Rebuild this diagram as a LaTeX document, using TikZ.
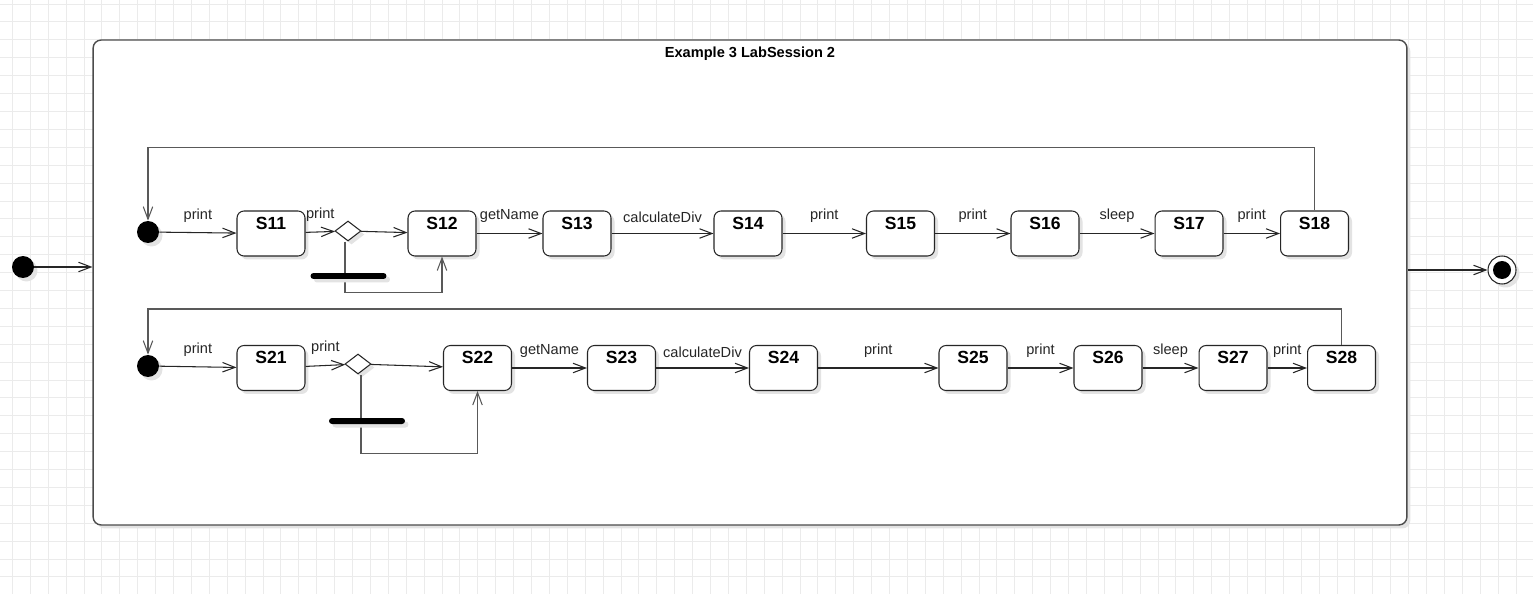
\documentclass[tikz,border=0pt]{standalone}
\usepackage{fontspec}
\setmainfont{Liberation Sans}
\usetikzlibrary{arrows.meta,shapes.geometric,shadows}

\tikzset{
    gridline/.style={draw=black!8, line width=0.45pt},
    shade box/.style={drop shadow={opacity=1, fill=black!11, shadow xshift=0.07cm, shadow yshift=-0.07cm}},
    state/.style={draw=black!85, fill=white, rounded corners=0.14cm, line width=0.6pt,
        minimum width=1.36cm, minimum height=0.9cm, inner sep=0.1cm,
        text height=0.26cm, text depth=0.44cm, font=\bfseries, shade box},
    start/.style={circle, fill=black, minimum size=0.44cm, inner sep=0, shade box},
    choice/.style={diamond, draw=black!85, fill=white, line width=0.6pt,
        minimum width=0.52cm, minimum height=0.4cm, inner sep=0, shade box},
    bar/.style={fill=black, rounded corners=0.06cm, minimum width=1.52cm,
        minimum height=0.12cm, inner sep=0, shade box},
    trans/.style={draw=black!85, line width=0.6pt, -{Straight Barb[length=2.5mm, width=1.9mm]}},
    back/.style={draw=black!65, line width=0.6pt, -{Straight Barb[length=2.5mm, width=1.9mm]}},
    lbl/.style={above=0.15cm, midway, text=black!85, inner sep=0.05cm}
}

\begin{document}
\begin{tikzpicture}[x=0.02cm, y=-0.02cm, font=\fontsize{8.3}{9.8}\selectfont]
        \useasboundingbox[fill=white] (0, 0) rectangle (1533, 594);

        % background grid
        \foreach \gx in {0, ..., 85} {
            \draw[gridline] ({12.3 + 17.9 * \gx}, 0) -- ++(0, 594);
        }
        \foreach \gy in {0, ..., 33} {
            \draw[gridline] (0, {4 + 17.9 * \gy}) -- ++(1533, 0);
        }

        % composite state
        \node[draw=black!70, fill=white, line width=0.8pt, rounded corners=0.16cm,
              minimum width=26.28cm, minimum height=9.7cm, inner sep=0, shade box]
              at (750, 282.5) (box) {};
        \node[font=\fontsize{8.3}{9.8}\selectfont\bfseries] at (750, 54) (title) {Example 3 LabSession 2};

        \node[start] at (23, 267) (i0) {};
        \node[circle, draw=black!85, fill=white, line width=0.6pt, minimum size=0.56cm,
              inner sep=0, shade box] at (1502, 270) (f0) {};
        \node[circle, fill=black, minimum size=0.36cm, inner sep=0] at (f0) (f0dot) {};

        % first row
        \node[start]  at (148, 232)     (i1)  {};
        \node[state]  at (271, 233.5)   (s11) {S11};
        \node[choice] at (348, 231)     (d1)  {};
        \node[state]  at (442, 233.5)   (s12) {S12};
        \node[state]  at (577, 233.5)   (s13) {S13};
        \node[state]  at (748, 233.5)   (s14) {S14};
        \node[state]  at (900.5, 233.5) (s15) {S15};
        \node[state]  at (1045, 233.5)  (s16) {S16};
        \node[state]  at (1189, 233.5)  (s17) {S17};
        \node[state]  at (1314.5, 233.5) (s18) {S18};

        % second row
        \node[start]  at (148, 366)     (i2)  {};
        \node[state]  at (271, 368)     (s21) {S21};
        \node[choice] at (358, 364)     (d2)  {};
        \node[state]  at (477.5, 368)   (s22) {S22};
        \node[state]  at (621.5, 368)   (s23) {S23};
        \node[state]  at (783.5, 368)   (s24) {S24};
        \node[state]  at (973, 368)     (s25) {S25};
        \node[state]  at (1108, 368)    (s26) {S26};
        \node[state]  at (1233, 368)    (s27) {S27};
        \node[state]  at (1341.5, 368)  (s28) {S28};

        \draw[trans] (i0) -- (i0 -| box.west);
        \draw[trans] (f0 -| box.east) -- (f0);

        \draw[trans] (i1)  -- (s11) node[lbl] {print};
        \draw[trans] (s11) -- (d1)  node[lbl] {print};
        \draw[trans] (d1)  -- (s12);
        \draw[back]  ([xshift=-0.06cm]d1.south) -- ++(0, 51) -| (s12.south);
        \draw[trans] (s12) -- (s13) node[lbl] {getName};
        \draw[trans] (s13) -- (s14) node[lbl] {calculateDiv};
        \draw[trans] (s14) -- (s15) node[lbl] {print};
        \draw[trans] (s15) -- (s16) node[lbl] {print};
        \draw[trans] (s16) -- (s17) node[lbl] {sleep};
        \draw[trans] (s17) -- (s18) node[lbl] {print};
        \draw[back]  (s18.north) -- ++(0, -63) -| (i1.north);

        \draw[trans] (i2)  -- (s21) node[lbl] {print};
        \draw[trans] (s21) -- (d2)  node[lbl] {print};
        \draw[trans] (d2)  -- (s22);
        \draw[back]  ([xshift=0.06cm]d2.south) -- ++(0, 79) -| (s22.south);
        \draw[trans] (s22) -- (s23) node[lbl] {getName};
        \draw[trans] (s23) -- (s24) node[lbl] {calculateDiv};
        \draw[trans] (s24) -- (s25) node[lbl] {print};
        \draw[trans] (s25) -- (s26) node[lbl] {print};
        \draw[trans] (s26) -- (s27) node[lbl] {sleep};
        \draw[trans] (s27) -- (s28) node[lbl] {print};
        \draw[back]  (s28.north) -- ++(0, -36) -| (i2.north);

        % bars
        \node[bar] at (348.5, 276) (b1) {};
        \node[bar] at (367, 421)   (b2) {};

    \end{tikzpicture}
\end{document}
